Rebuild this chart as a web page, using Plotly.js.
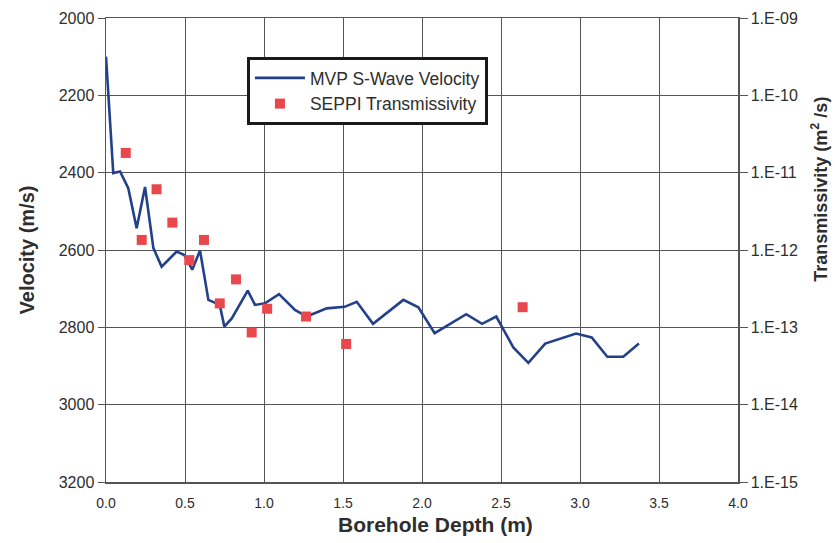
<!DOCTYPE html>
<html>
<head>
<meta charset="utf-8">
<script src="https://cdn.plot.ly/plotly-3.0.1.min.js"></script>
<style>html,body{margin:0;padding:0;background:#fff;}#chart{width:835px;height:543px;}</style>
</head>
<body>
<div id="chart"></div>
<script>
// MVP S-Wave Velocity (depth m, velocity m/s)
const velDepth = [0.0, 0.046, 0.089, 0.141, 0.194, 0.247, 0.30, 0.352, 0.447, 0.496, 0.546, 0.595, 0.648, 0.72, 0.749, 0.796, 0.897, 0.943, 1.006, 1.095, 1.196, 1.27, 1.397, 1.51, 1.587, 1.69, 1.882, 1.977, 2.08, 2.28, 2.38, 2.47, 2.578, 2.673, 2.78, 2.884, 2.975, 3.074, 3.173, 3.274, 3.373];
const velocity = [2100, 2401, 2397, 2440, 2544, 2437, 2595, 2643, 2604, 2613, 2651, 2601, 2729, 2742, 2798, 2777, 2705, 2742, 2738, 2714, 2755, 2772, 2751, 2747, 2734, 2791, 2729, 2748, 2815, 2766, 2791, 2772, 2852, 2892, 2842, 2829, 2816, 2826, 2876, 2876, 2842];

// SEPPI Transmissivity (depth m, m^2/s)
const transDepth = [0.125, 0.226, 0.32, 0.42, 0.527, 0.62, 0.72, 0.823, 0.922, 1.02, 1.266, 1.52, 2.637];
const transmissivity = [1.8e-11, 1.35e-12, 6.1e-12, 2.26e-12, 7.4e-13, 1.35e-12, 2.04e-13, 4.17e-13, 8.6e-14, 1.74e-13, 1.38e-13, 6.1e-14, 1.82e-13];

// Axis ticks
const xTicks = [0.0, 0.5, 1.0, 1.5, 2.0, 2.5, 3.0, 3.5, 4.0];
const xTickText = ["0.0", "0.5", "1.0", "1.5", "2.0", "2.5", "3.0", "3.5", "4.0"];
const yTicks = [2000, 2200, 2400, 2600, 2800, 3000, 3200];
const y2Ticks = [1e-9, 1e-10, 1e-11, 1e-12, 1e-13, 1e-14, 1e-15];
const y2TickText = ["1.E-09", "1.E-10", "1.E-11", "1.E-12", "1.E-13", "1.E-14", "1.E-15"];

const font = "Liberation Sans, Arial, sans-serif";
const txtColor = "#2e2e2e";
const xTickFont = {family: font, size: 14, color: txtColor};
const yTickFont = {family: font, size: 16, color: txtColor};
const titleFont = {family: font, size: 20, color: txtColor, weight: "bold"};

const traces = [
  {
    x: velDepth, y: velocity, type: "scatter", mode: "lines",
    name: "MVP S-Wave Velocity",
    line: {color: "#23418a", width: 2.6},
    xaxis: "x", yaxis: "y"
  },
  {
    x: transDepth, y: transmissivity, type: "scatter", mode: "markers",
    name: "SEPPI Transmissivity",
    marker: {symbol: "square", size: 10, color: "#e8474c"},
    xaxis: "x", yaxis: "y2"
  }
];

const layout = {
  width: 835, height: 543,
  margin: {l: 106, r: 97, t: 18, b: 61},
  paper_bgcolor: "#fff", plot_bgcolor: "#fff",
  showlegend: true,
  legend: {
    x: 0.223, y: 0.916, xanchor: "left", yanchor: "top",
    bgcolor: "#fff", bordercolor: "#1a1a1a", borderwidth: 3,
    font: {family: font, size: 17.5, color: txtColor},
    itemwidth: 50
  },
  xaxis: {
    range: [0, 4.0],
    tickvals: xTicks, ticktext: xTickText,
    tickfont: xTickFont,
    showgrid: true, gridcolor: "#555", gridwidth: 1,
    showline: true, linecolor: "#555", linewidth: 1.5, mirror: true,
    ticks: "", ticklabelstandoff: 8, zeroline: false
  },
  yaxis: {
    range: [3200, 2000],
    tickvals: yTicks,
    tickfont: yTickFont,
    showgrid: true, gridcolor: "#555", gridwidth: 1,
    showline: true, linecolor: "#555", linewidth: 1.5,
    ticks: "outside", ticklen: 7, tickcolor: "#555",
    zeroline: false,
    title: {text: "Velocity (m/s)", font: titleFont, standoff: 18}
  },
  yaxis2: {
    type: "log", range: [-15, -9],
    overlaying: "y", side: "right",
    tickvals: y2Ticks, ticktext: y2TickText,
    tickfont: yTickFont,
    showgrid: false,
    showline: true, linecolor: "#555", linewidth: 1.5,
    ticks: "outside", ticklen: 8, tickcolor: "#555",
    zeroline: false
  },
  annotations: [
    {
      text: "Borehole Depth (m)",
      xref: "paper", yref: "paper",
      x: 0.522, y: -0.092, xanchor: "center", yanchor: "middle",
      showarrow: false,
      font: {family: font, size: 21, color: txtColor, weight: "bold"}
    },
    {
      text: "Transmissivity (m<sup>2</sup> /s)",
      xref: "paper", yref: "paper",
      x: 1.1297, y: 0.632, xanchor: "center", yanchor: "middle",
      textangle: -90, showarrow: false,
      font: {family: font, size: 18, color: txtColor, weight: "bold"}
    }
  ]
};

Plotly.newPlot("chart", traces, layout, {displayModeBar: false, staticPlot: true});
</script>
</body>
</html>
